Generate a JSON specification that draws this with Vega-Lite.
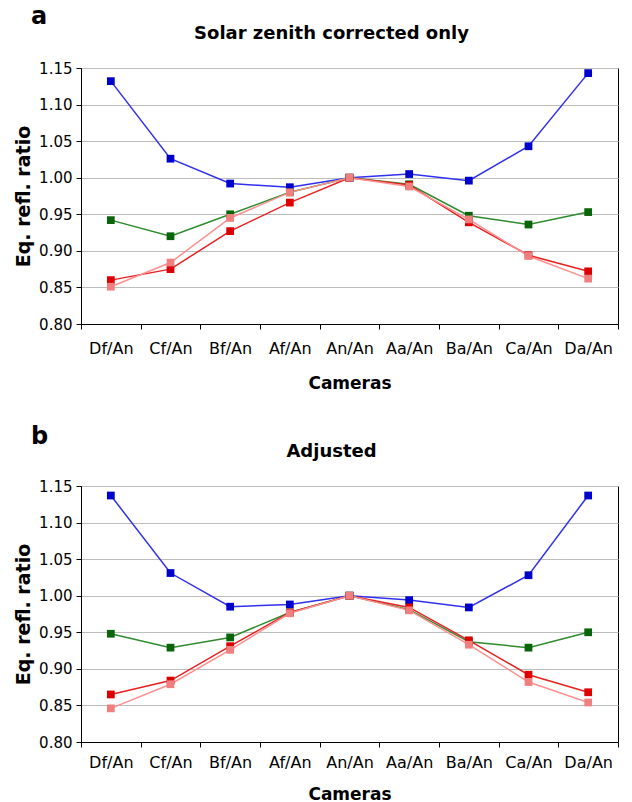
{
  "$schema": "https://vega.github.io/schema/vega-lite/v6.json",
  "padding": {"left": 14, "top": 4, "right": 8, "bottom": 2},
  "spacing": 32,
  "config": {
    "font": "DejaVu Sans",
    "view": {"stroke": "black", "strokeWidth": 1},
    "axis": {
      "labelFont": "DejaVu Sans", "labelFontSize": 16, "labelColor": "black",
      "titleFont": "DejaVu Sans", "titleFontWeight": "bold", "titleColor": "black",
      "domainColor": "black", "tickColor": "black", "tickSize": 5
    },
    "title": {"font": "DejaVu Sans", "color": "black"}
  },
  "datasets": {
    "a": [
      {"cam": "Df/An", "s": "Series 1", "v": 1.132}, {"cam": "Cf/An", "s": "Series 1", "v": 1.026}, {"cam": "Bf/An", "s": "Series 1", "v": 0.992}, {"cam": "Af/An", "s": "Series 1", "v": 0.987}, {"cam": "An/An", "s": "Series 1", "v": 1.0}, {"cam": "Aa/An", "s": "Series 1", "v": 1.005}, {"cam": "Ba/An", "s": "Series 1", "v": 0.996}, {"cam": "Ca/An", "s": "Series 1", "v": 1.043}, {"cam": "Da/An", "s": "Series 1", "v": 1.143},
      {"cam": "Df/An", "s": "Series 2", "v": 0.942}, {"cam": "Cf/An", "s": "Series 2", "v": 0.920}, {"cam": "Bf/An", "s": "Series 2", "v": 0.950}, {"cam": "Af/An", "s": "Series 2", "v": 0.980}, {"cam": "An/An", "s": "Series 2", "v": 1.0}, {"cam": "Aa/An", "s": "Series 2", "v": 0.991}, {"cam": "Ba/An", "s": "Series 2", "v": 0.948}, {"cam": "Ca/An", "s": "Series 2", "v": 0.936}, {"cam": "Da/An", "s": "Series 2", "v": 0.953},
      {"cam": "Df/An", "s": "Series 3", "v": 0.860}, {"cam": "Cf/An", "s": "Series 3", "v": 0.875}, {"cam": "Bf/An", "s": "Series 3", "v": 0.927}, {"cam": "Af/An", "s": "Series 3", "v": 0.966}, {"cam": "An/An", "s": "Series 3", "v": 1.0}, {"cam": "Aa/An", "s": "Series 3", "v": 0.990}, {"cam": "Ba/An", "s": "Series 3", "v": 0.939}, {"cam": "Ca/An", "s": "Series 3", "v": 0.894}, {"cam": "Da/An", "s": "Series 3", "v": 0.872},
      {"cam": "Df/An", "s": "Series 4", "v": 0.851}, {"cam": "Cf/An", "s": "Series 4", "v": 0.884}, {"cam": "Bf/An", "s": "Series 4", "v": 0.945}, {"cam": "Af/An", "s": "Series 4", "v": 0.980}, {"cam": "An/An", "s": "Series 4", "v": 1.0}, {"cam": "Aa/An", "s": "Series 4", "v": 0.988}, {"cam": "Ba/An", "s": "Series 4", "v": 0.943}, {"cam": "Ca/An", "s": "Series 4", "v": 0.893}, {"cam": "Da/An", "s": "Series 4", "v": 0.862}
    ],
    "b": [
      {"cam": "Df/An", "s": "Series 1", "v": 1.137}, {"cam": "Cf/An", "s": "Series 1", "v": 1.031}, {"cam": "Bf/An", "s": "Series 1", "v": 0.985}, {"cam": "Af/An", "s": "Series 1", "v": 0.988}, {"cam": "An/An", "s": "Series 1", "v": 1.0}, {"cam": "Aa/An", "s": "Series 1", "v": 0.994}, {"cam": "Ba/An", "s": "Series 1", "v": 0.984}, {"cam": "Ca/An", "s": "Series 1", "v": 1.028}, {"cam": "Da/An", "s": "Series 1", "v": 1.137},
      {"cam": "Df/An", "s": "Series 2", "v": 0.948}, {"cam": "Cf/An", "s": "Series 2", "v": 0.929}, {"cam": "Bf/An", "s": "Series 2", "v": 0.943}, {"cam": "Af/An", "s": "Series 2", "v": 0.977}, {"cam": "An/An", "s": "Series 2", "v": 1.0}, {"cam": "Aa/An", "s": "Series 2", "v": 0.981}, {"cam": "Ba/An", "s": "Series 2", "v": 0.937}, {"cam": "Ca/An", "s": "Series 2", "v": 0.929}, {"cam": "Da/An", "s": "Series 2", "v": 0.950},
      {"cam": "Df/An", "s": "Series 3", "v": 0.865}, {"cam": "Cf/An", "s": "Series 3", "v": 0.884}, {"cam": "Bf/An", "s": "Series 3", "v": 0.931}, {"cam": "Af/An", "s": "Series 3", "v": 0.977}, {"cam": "An/An", "s": "Series 3", "v": 1.0}, {"cam": "Aa/An", "s": "Series 3", "v": 0.984}, {"cam": "Ba/An", "s": "Series 3", "v": 0.939}, {"cam": "Ca/An", "s": "Series 3", "v": 0.892}, {"cam": "Da/An", "s": "Series 3", "v": 0.868},
      {"cam": "Df/An", "s": "Series 4", "v": 0.846}, {"cam": "Cf/An", "s": "Series 4", "v": 0.879}, {"cam": "Bf/An", "s": "Series 4", "v": 0.926}, {"cam": "Af/An", "s": "Series 4", "v": 0.976}, {"cam": "An/An", "s": "Series 4", "v": 1.0}, {"cam": "Aa/An", "s": "Series 4", "v": 0.980}, {"cam": "Ba/An", "s": "Series 4", "v": 0.933}, {"cam": "Ca/An", "s": "Series 4", "v": 0.882}, {"cam": "Da/An", "s": "Series 4", "v": 0.854}
    ]
  },
  "vconcat": [
    {
      "title": {"text": "a", "anchor": "start", "fontSize": 24, "fontWeight": "bold", "dx": 17, "offset": -4},
      "vconcat": [
        {
          "title": {"text": "Solar zenith corrected only", "fontSize": 18, "fontWeight": "bold", "dx": -18, "offset": 18},
          "width": 537, "height": 256,
          "data": {"name": "a"},
          "encoding": {
            "x": {"field": "cam", "type": "nominal", "sort": ["Df/An", "Cf/An", "Bf/An", "Af/An", "An/An", "Aa/An", "Ba/An", "Ca/An", "Da/An"],
                  "scale": {"type": "band", "paddingInner": 0, "paddingOuter": 0},
                  "axis": {"title": "Cameras", "labelAngle": 0, "tickBand": "extent", "titleFontSize": 17, "titlePadding": 19, "labelPadding": 11, "grid": false}},
            "y": {"field": "v", "type": "quantitative", "scale": {"domain": [0.8, 1.15], "zero": false, "nice": false},
                  "axis": {"values": [0.8, 0.85, 0.9, 0.95, 1.0, 1.05, 1.1, 1.15], "format": ".2f", "title": "Eq. refl. ratio", "titleFontSize": 19, "titlePadding": 5, "labelPadding": 4, "labelFontSize": 15, "gridColor": "#bdbdbd", "gridWidth": 1.2}}
          },
          "layer": [
            {"mark": {"type": "line", "strokeWidth": 1.5},
             "encoding": {"stroke": {"field": "s", "type": "nominal", "scale": {"domain": ["Series 1", "Series 2", "Series 3", "Series 4"], "range": ["#3030EE", "#2E8B2E", "#E82020", "#FF9090"]}, "legend": null}}},
            {"mark": {"type": "point", "shape": "square", "filled": true, "size": 60, "opacity": 1, "strokeWidth": 0},
             "encoding": {"fill": {"field": "s", "type": "nominal", "scale": {"domain": ["Series 1", "Series 2", "Series 3", "Series 4"], "range": ["#0000CC", "#0A640A", "#DD0000", "#F08080"]}, "legend": null}}}
          ]
        }
      ]
    },
    {
      "title": {"text": "b", "anchor": "start", "fontSize": 24, "fontWeight": "bold", "dx": 17, "offset": -6},
      "vconcat": [
        {
          "title": {"text": "Adjusted", "fontSize": 18, "fontWeight": "bold", "dx": -18, "offset": 18},
          "width": 537, "height": 256,
          "data": {"name": "b"},
          "encoding": {
            "x": {"field": "cam", "type": "nominal", "sort": ["Df/An", "Cf/An", "Bf/An", "Af/An", "An/An", "Aa/An", "Ba/An", "Ca/An", "Da/An"],
                  "scale": {"type": "band", "paddingInner": 0, "paddingOuter": 0},
                  "axis": {"title": "Cameras", "labelAngle": 0, "tickBand": "extent", "titleFontSize": 17, "titlePadding": 16, "labelPadding": 7, "grid": false}},
            "y": {"field": "v", "type": "quantitative", "scale": {"domain": [0.8, 1.15], "zero": false, "nice": false},
                  "axis": {"values": [0.8, 0.85, 0.9, 0.95, 1.0, 1.05, 1.1, 1.15], "format": ".2f", "title": "Eq. refl. ratio", "titleFontSize": 19, "titlePadding": 5, "labelPadding": 4, "labelFontSize": 15, "gridColor": "#bdbdbd", "gridWidth": 1.2}}
          },
          "layer": [
            {"mark": {"type": "line", "strokeWidth": 1.5},
             "encoding": {"stroke": {"field": "s", "type": "nominal", "scale": {"domain": ["Series 1", "Series 2", "Series 3", "Series 4"], "range": ["#3030EE", "#2E8B2E", "#E82020", "#FF9090"]}, "legend": null}}},
            {"mark": {"type": "point", "shape": "square", "filled": true, "size": 60, "opacity": 1, "strokeWidth": 0},
             "encoding": {"fill": {"field": "s", "type": "nominal", "scale": {"domain": ["Series 1", "Series 2", "Series 3", "Series 4"], "range": ["#0000CC", "#0A640A", "#DD0000", "#F08080"]}, "legend": null}}}
          ]
        }
      ]
    }
  ]
}
